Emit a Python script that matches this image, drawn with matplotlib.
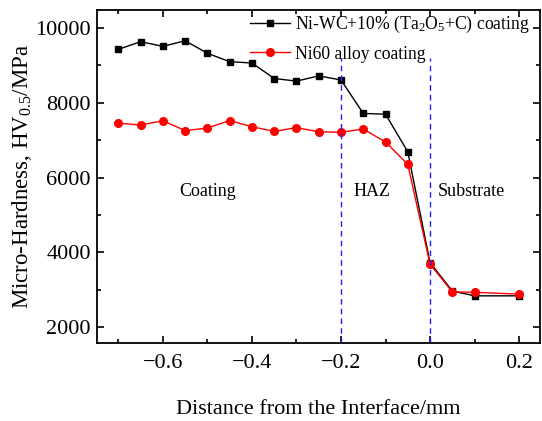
import matplotlib
matplotlib.use("Agg")
import matplotlib.pyplot as plt
from matplotlib.ticker import MultipleLocator

plt.rcParams['font.family'] = ['Liberation Serif', 'DejaVu Serif']
plt.rcParams['mathtext.fontset'] = 'custom'
plt.rcParams['mathtext.rm'] = 'Liberation Serif'
plt.rcParams['mathtext.it'] = 'Liberation Serif:italic'

distance = [-0.7, -0.65, -0.6, -0.55, -0.5, -0.45, -0.4, -0.35, -0.3, -0.25,
            -0.2, -0.15, -0.1, -0.05, 0.0, 0.05, 0.1, 0.2]
ni_wc_ta = [9430, 9635, 9510, 9660, 9325, 9100, 9065, 8650, 8580, 8720,
            8610, 7715, 7695, 6690, 3725, 2965, 2835, 2835]
ni60 = [7455, 7405, 7520, 7255, 7325, 7525, 7360, 7235, 7335, 7225,
        7210, 7300, 6950, 6355, 3680, 2940, 2930, 2880]
boundaries = [-0.2, 0.0]
zone_labels = ["Coating", "HAZ", "Substrate"]
zone_x = [-0.5, -0.13, 0.092]
zone_y = 5620

fig = plt.figure(figsize=(5.42, 4.21), dpi=100)
ax = fig.add_axes([0.179, 0.185, 0.8173, 0.791])

ax.plot(distance, ni_wc_ta, color='black', marker='s', markersize=4.5, lw=1.0,
        label=r'Ni-WC+10% (Ta$_2$O$_5$+C) coating')
ax.plot(distance, ni60, color='red', marker='o', markersize=5.5, lw=1.0,
        label='Ni60 alloy coating')

for b in boundaries:
    ax.plot([b, b], [1570, 9200], color='#2020ff', lw=1.0, ls=(0, (4, 3)))

for lab, zx in zip(zone_labels, zone_x):
    ax.text(zx, zone_y, lab, ha='center', va='center', fontsize=13)

ax.set_xlim(-0.748, 0.247)
ax.set_ylim(1570, 10480)
ax.xaxis.set_major_locator(MultipleLocator(0.2))
ax.xaxis.set_minor_locator(MultipleLocator(0.1))
ax.yaxis.set_major_locator(MultipleLocator(2000))
ax.yaxis.set_minor_locator(MultipleLocator(1000))
ax.tick_params(which='both', direction='in', top=True, right=True, labelsize=16, width=1.2)
ax.tick_params(axis='x', which='both', pad=8)
ax.tick_params(axis='y', which='both', pad=4.5)
ax.tick_params(which='major', length=5)
ax.tick_params(which='minor', length=3)
for s in ax.spines.values():
    s.set_linewidth(1.3)

ax.set_xlabel('Distance from the Interface/mm', fontsize=16, labelpad=19)
ax.set_ylabel(r'Micro-Hardness, HV$_{0.5}$/MPa', fontsize=16.5, labelpad=0.5)

ax.legend(loc='upper right', frameon=False, fontsize=12.7, handlelength=2.3,
          borderaxespad=0.35, borderpad=0.2, labelspacing=0.6, handletextpad=0.3,
          bbox_to_anchor=(1.0, 1.018))

fig.savefig('out.png', dpi=100)
